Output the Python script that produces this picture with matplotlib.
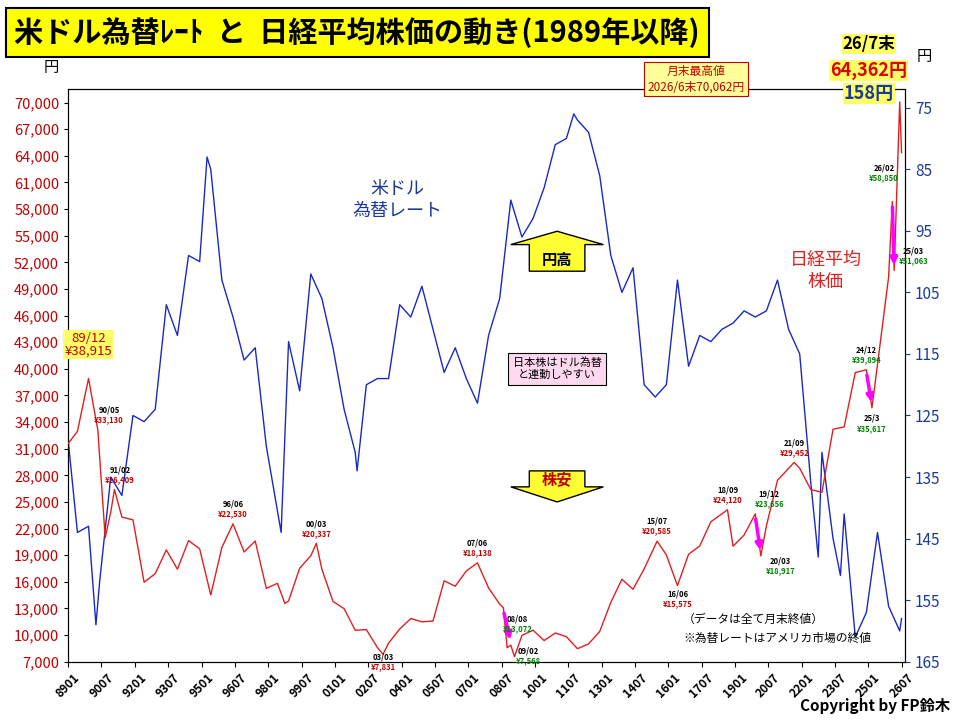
import numpy as np
import matplotlib.pyplot as plt
from matplotlib.patches import FancyArrow

plt.rcParams['font.family'] = ['Noto Sans CJK JP', 'DejaVu Sans']

# 日経平均（月末終値、主要月）  (年, 月, 値)
nk_ym = [(1989,1),(1989,6),(1989,12),(1990,5),(1990,9),(1990,12),(1991,2),(1991,6),(1991,12),
         (1992,6),(1992,12),(1993,6),(1993,12),(1994,6),(1994,12),(1995,6),(1995,12),
         (1996,6),(1996,12),(1997,6),(1997,12),(1998,6),(1998,10),(1998,12),(1999,6),(1999,12),
         (2000,3),(2000,6),(2000,12),(2001,6),(2001,12),(2002,6),(2002,12),(2003,3),(2003,6),(2003,12),
         (2004,6),(2004,12),(2005,6),(2005,12),(2006,6),(2006,12),(2007,6),(2007,12),
         (2008,6),(2008,8),(2008,10),(2008,12),(2009,2),(2009,6),(2009,12),(2010,6),(2010,12),
         (2011,6),(2011,12),(2012,6),(2012,12),(2013,6),(2013,12),(2014,6),(2014,12),
         (2015,7),(2015,12),(2016,6),(2016,12),(2017,6),(2017,12),(2018,9),(2018,12),
         (2019,6),(2019,12),(2020,3),(2020,6),(2020,12),(2021,9),(2021,12),(2022,6),(2022,12),
         (2023,6),(2023,12),(2024,6),(2024,12),(2025,3),(2025,6),(2025,12),(2026,2),(2026,3),
         (2026,6),(2026,7)]
nk_val = [31580,32950,38915,33130,20980,23850,26409,23290,22980,
          15950,16920,19590,17420,20640,19720,14520,19870,
          22530,19360,20600,15260,15830,13560,13840,17530,18930,
          20337,17410,13790,12970,10540,10620,8580,7831,9080,10680,
          11860,11490,11580,16110,15500,17230,18138,15310,
          13480,13072,8577,8860,7568,9960,10550,9380,10230,
          9820,8460,9010,10400,13680,16290,15160,17450,
          20585,19030,15575,19110,20030,22760,24120,20010,
          21280,23656,18917,22290,27440,29452,28790,26390,26090,
          33190,33460,39580,39894,35617,40490,50340,58850,51063,
          70062,64362]

# 米ドル為替レート（円/ドル）
fx_ym = [(1989,1),(1989,6),(1989,12),(1990,4),(1990,6),(1990,12),(1991,6),(1991,12),
         (1992,6),(1992,12),(1993,6),(1993,12),(1994,6),(1994,12),(1995,4),(1995,6),(1995,12),
         (1996,6),(1996,12),(1997,6),(1997,12),(1998,8),(1998,12),(1999,6),(1999,12),
         (2000,6),(2000,12),(2001,6),(2001,12),(2002,1),(2002,6),(2002,12),(2003,6),(2003,12),
         (2004,6),(2004,12),(2005,6),(2005,12),(2006,6),(2006,12),(2007,6),(2007,12),
         (2008,6),(2008,12),(2009,6),(2009,12),(2010,6),(2010,12),(2011,6),(2011,10),(2011,12),
         (2012,6),(2012,12),(2013,6),(2013,12),(2014,6),(2014,12),(2015,6),(2015,12),
         (2016,6),(2016,12),(2017,6),(2017,12),(2018,6),(2018,12),(2019,6),(2019,12),
         (2020,6),(2020,12),(2021,6),(2021,12),(2022,6),(2022,10),(2022,12),(2023,6),(2023,10),(2023,12),
         (2024,6),(2024,12),(2025,6),(2025,12),(2026,6),(2026,7)]
fx_val = [129,144,143,159,152,135,138,125,
          126,124,107,112,99,100,83,85,103,
          109,116,114,130,144,113,121,102,
          106,114,124,131,134,120,119,119,107,
          109,104,111,118,114,119,123,112,
          106,90,96,93,88,81,80,76,77,
          79,86,99,105,101,120,122,120,
          103,117,112,113,111,110,108,109,
          108,103,111,115,136,148,131,145,151,141,
          161,157,144,156,160,158]

xtick_labels = ['8901','9007','9201','9307','9501','9607','9801','9907','0101','0207','0401','0507',
                '0701','0807','1001','1107','1301','1407','1601','1707','1901','2007','2201','2307',
                '2501','2607']

# 吹き出しラベル：(年, 月, 日付文字, 値文字, 値の色)
labels = [(1990,5,'90/05','¥33,130','#c00000'),(1991,2,'91/02','¥26,409','#c00000'),
          (1996,6,'96/06','¥22,530','#c00000'),(2000,3,'00/03','¥20,337','#c00000'),
          (2003,3,'03/03','¥7,831','#c00000'),(2007,6,'07/06','¥18,138','#c00000'),
          (2008,8,'08/08','¥13,072','#008000'),(2009,2,'09/02','¥7,568','#008000'),
          (2015,7,'15/07','¥20,585','#c00000'),(2016,6,'16/06','¥15,575','#c00000'),
          (2018,9,'18/09','¥24,120','#c00000'),(2019,12,'19/12','¥23,656','#008000'),
          (2020,3,'20/03','¥18,917','#008000'),(2021,9,'21/09','¥29,452','#c00000'),
          (2024,12,'24/12','¥39,894','#008000'),(2025,3,'25/3','¥35,617','#008000'),
          (2026,2,'26/02','¥58,850','#008000'),(2026,3,'25/03','¥51,063','#008000')]
# オフセット（ポイント）
label_off = [(8,4),(4,4),(0,4),(0,4),(0,-12),(0,4),(10,-18),(10,-6),
             (0,4),(0,-16),(0,4),(10,4),(14,-14),(0,4),(0,4),(0,-18),
             (-6,14),(14,4)]

RED = '#e02020'
BLUE = '#1a2ac0'


def mi(y, m):
    return (y - 1989) * 12 + (m - 1)


fig = plt.figure(figsize=(9.6, 7.2), dpi=100)
ax = fig.add_axes([0.071, 0.081, 0.872, 0.795])
ax2 = ax.twinx()

nx = [mi(y, m) for y, m in nk_ym]
fx = [mi(y, m) for y, m in fx_ym]
ax.plot(nx, nk_val, color=RED, lw=1.0, zorder=3)
ax2.plot(fx, fx_val, color=BLUE, lw=1.0)

ax.set_zorder(ax2.get_zorder() + 1)
ax.patch.set_visible(False)

ax.set_xlim(0, mi(2026, 9))
ax.set_ylim(7000, 71500)
ax.set_yticks(range(7000, 70001, 3000))
ax.set_yticklabels([f'{v:,}' for v in range(7000, 70001, 3000)], color='#c00000', fontsize=10.5)
ax2.set_ylim(165, 72)
ax2.set_yticks(range(75, 166, 10))
ax2.tick_params(axis='y', colors='#1a3a9a', labelsize=11)
ax.set_xticks([i * 18 for i in range(len(xtick_labels))])
ax.set_xticklabels(xtick_labels, rotation=45, fontsize=8.5, fontweight='bold')
ax.tick_params(axis='y', length=3)

for (y, m, d, v, c), (dx, dy) in zip(labels, label_off):
    i = nk_ym.index((y, m))
    ax.annotate(v, (nx[i], nk_val[i]), xytext=(dx, dy), textcoords='offset points',
                ha='center', va='bottom', fontsize=5.5, fontweight='bold', color=c, zorder=7)
    ax.annotate(d, (nx[i], nk_val[i]), xytext=(dx, dy + 7), textcoords='offset points',
                ha='center', va='bottom', fontsize=5.5, fontweight='bold', color='black', zorder=7)

# 89/12
ax.text(mi(1989, 12), 41600, '89/12\n¥38,915', ha='center', fontsize=9.5, color='#c00000',
        bbox=dict(boxstyle='square,pad=0.1', fc='#ffff66', ec='none'), linespacing=1.0)

# 矢印
ax.add_patch(FancyArrow(mi(2011, 1), 51000, 0, 3000, width=30, head_width=50, head_length=1500,
                        fc='#ffff33', ec='black', lw=1, zorder=5))
ax.text(mi(2011, 1), 52300, '円高', ha='center', va='center', fontsize=11, fontweight='bold', zorder=6)
ax.add_patch(FancyArrow(mi(2011, 1), 28500, 0, -1800, width=30, head_width=50, head_length=1700,
                        fc='#ffff33', ec='black', lw=1, zorder=5))
ax.text(mi(2011, 1), 27600, '株安', ha='center', va='center', fontsize=11, fontweight='bold', color='#c00000', zorder=6)

# マゼンタの下落矢印
for (y0, m0, y1, m1) in [(2008, 8, 2008, 12), (2019, 12, 2020, 3), (2024, 12, 2025, 3), (2026, 2, 2026, 3)]:
    ax.annotate('', xy=(mi(y1, m1), nk_val[nk_ym.index((y1, m1))] + 300),
                xytext=(mi(y0, m0), nk_val[nk_ym.index((y0, m0))] - 300),
                arrowprops=dict(arrowstyle='-|>', color='#ff00ff', lw=2.5), zorder=6)

ax.text(mi(2003, 11), 59000, '米ドル\n為替レート', ha='center', va='center', color='#1a3a9a', fontsize=13, linespacing=1.3)
ax.text(mi(2023, 2), 51000, '日経平均\n株価', ha='center', va='center', color='#e02020', fontsize=13, linespacing=1.3)
ax.text(mi(2011, 1), 40000, '日本株はドル為替\nと連動しやすい', ha='center', va='center', fontsize=8,
        bbox=dict(boxstyle='square,pad=0.4', fc='#ffd8f0', ec='black', lw=0.8))
ax.text(mi(2016, 9), 10700, '（データは全て月末終値）\n※為替レートはアメリカ市場の終値', ha='left', va='center', fontsize=8.5, linespacing=1.6)

fig.text(0.015, 0.955, '米ドル為替ﾚｰﾄ  と  日経平均株価の動き(1989年以降)', fontsize=21, fontweight='bold',
         va='center', bbox=dict(boxstyle='square,pad=0.3', fc='#ffff00', ec='black', lw=1.5))
fig.text(0.725, 0.89, '月末最高値\n2026/6末70,062円', ha='center', va='center', fontsize=8.5, color='#c00000',
         linespacing=1.2, bbox=dict(boxstyle='square,pad=0.25', fc='#ffff99', ec='#c00000', lw=0.8))
fig.text(0.905, 0.932, '26/7末', ha='center', fontsize=12, fontweight='bold',
         bbox=dict(boxstyle='square,pad=0.05', fc='#ffff66', ec='none'))
fig.text(0.905, 0.895, '64,362円', ha='center', fontsize=13, fontweight='bold', color='#e00000',
         bbox=dict(boxstyle='square,pad=0.05', fc='#ffff66', ec='none'))
fig.text(0.905, 0.862, '158円', ha='center', fontsize=13, fontweight='bold', color='#1a3a9a',
         bbox=dict(boxstyle='square,pad=0.05', fc='#ffff66', ec='none'))
fig.text(0.045, 0.9, '円', fontsize=11)
fig.text(0.955, 0.915, '円', fontsize=11)
fig.text(0.99, 0.012, 'Copyright by FP鈴木', ha='right', fontsize=11, fontweight='bold')

fig.savefig('out.png', dpi=100, facecolor='white')
